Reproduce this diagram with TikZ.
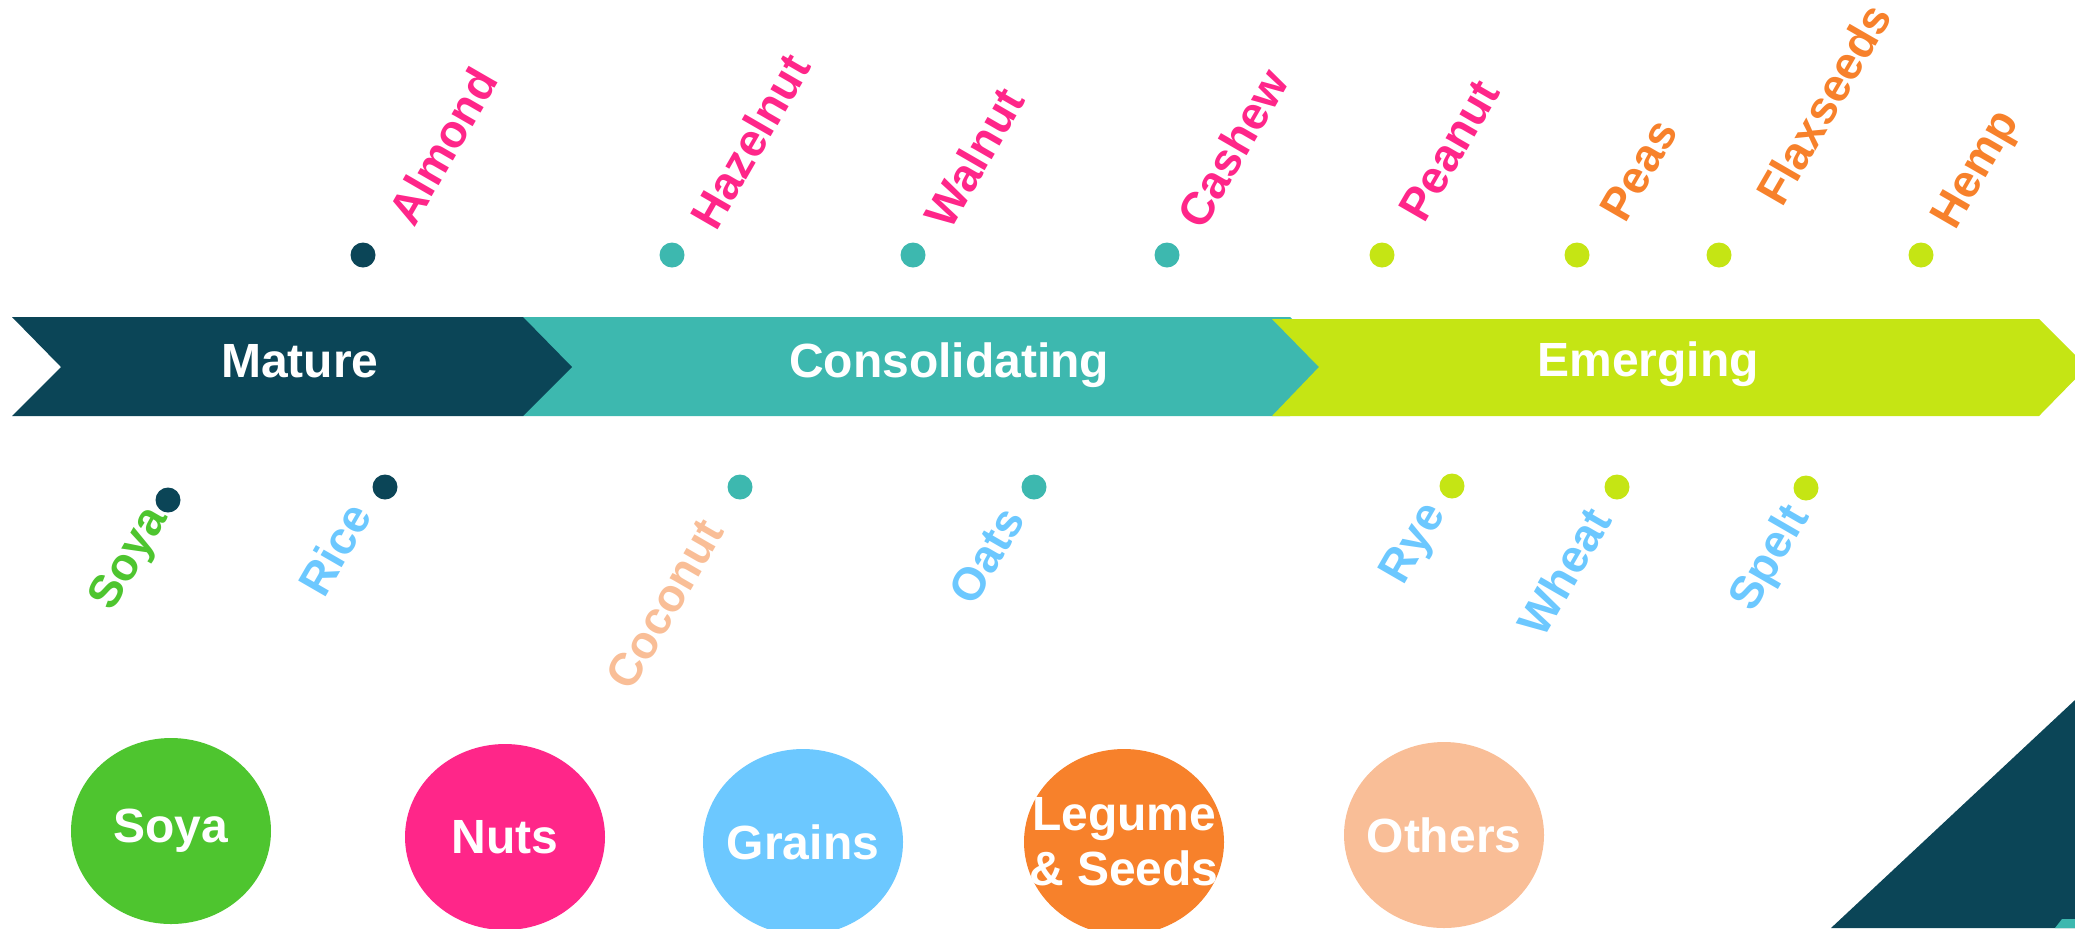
\documentclass[tikz,border=0pt]{standalone}
\usepackage{fontspec}
\setmainfont{Liberation Sans}
\usetikzlibrary{shapes.geometric}

\definecolor{dark}{HTML}{0B4557}
\definecolor{teal}{HTML}{3DB8AF}
\definecolor{lime}{HTML}{C5E514}
\definecolor{nut}{HTML}{FF2689}
\definecolor{seed}{HTML}{F7812B}
\definecolor{soy}{HTML}{4EC52F}
\definecolor{grain}{HTML}{6CC8FF}
\definecolor{other}{HTML}{F9BE97}

\begin{document}
\begin{tikzpicture}[x=0.5pt,y=-0.5pt,
    stage/.style={text=white, font=\fontsize{24}{28}\selectfont\bfseries, anchor=base},
    dot/.style={circle, inner sep=0pt, minimum size=12.5pt},
    crop/.style={font=\fontsize{23}{27}\selectfont\bfseries, inner sep=0pt, rotate=60},
    group/.style={ellipse, inner sep=0pt, minimum width=100pt, minimum height=93pt},
    grouptext/.style={text=white, align=center, inner sep=0pt,
        font=\fontsize{24}{27.5}\selectfont\bfseries}]
    \useasboundingbox (0,0) rectangle (2075,928);

    % the three stages
    \fill[teal] (523,317) -- (1290,317) -- (1340,367) -- (1290,416) -- (523,416) -- cycle;
    \fill[dark] (12,317) -- (523,317) -- (572,367) -- (523,416) -- (12,416) -- (61,367) -- cycle;
    \fill[lime] (1272,319) -- (2039,319) -- (2087,367) -- (2039,416) -- (1272,416) -- (1319,367) -- cycle;
    \node[stage] (mature) at (300,377) {Mature};
    \node[stage] (consolidating) at (949,377) {Consolidating};
    \node[stage] (emerging) at (1648,376) {Emerging};

    % crops above the stages
    \foreach \n/\x/\c in {almond/363/dark, hazelnut/672/teal, walnut/913/teal, cashew/1167/teal,
        peanut/1382/lime, peas/1577/lime, flax/1719/lime, hemp/1921/lime}
        \node[dot, fill=\c] (d-\n) at (\x,255) {};
    \foreach \n/\t/\c/\x/\y in {almond/Almond/nut/414/229, hazelnut/Hazelnut/nut/716/233,
        walnut/Walnut/nut/950/232, cashew/Cashew/nut/1203/232, peanut/Peanut/nut/1424/225,
        peas/Peas/seed/1625/225, flax/Flaxseeds/seed/1782/209, hemp/Hemp/seed/1955/232}
        \node[crop, text=\c, anchor=base west] (\n) at (\x,\y) {\t};

    % crops below the stages
    \foreach \n/\x/\y/\c in {soya/168/500/dark, rice/385/487/dark, coconut/740/487/teal,
        oats/1034/487/teal, rye/1452/486/lime, wheat/1617/487/lime, spelt/1806/488/lime}
        \node[dot, fill=\c] (d-\n) at (\x,\y) {};
    \foreach \n/\t/\c/\x/\y in {soya/Soya/soy/168/517, rice/Rice/grain/373/515,
        coconut/Coconut/other/725/531, oats/Oats/grain/1026/519, rye/Rye/grain/1446/513,
        wheat/Wheat/grain/1613/520, spelt/Spelt/grain/1810/516}
        \node[crop, text=\c, anchor=base east] (\n) at (\x,\y) {\t};

    % legend
    \foreach \n/\t/\c/\x/\y in {soya/Soya/soy/171/831, nuts/Nuts/nut/505/837,
        grains/Grains/grain/803/842, seeds/Legume\\\& Seeds/seed/1124/842,
        others/Others/other/1444/835}
    {
        \node[group, fill=\c] (g-\n) at (\x,\y) {};
        \node[grouptext] (t-\n) at (g-\n) {\t};
    }

    % corner
    \fill[dark] (1831,928) -- (2075,700) -- (2075,928) -- cycle;
    \fill[teal] (2055,928) -- (2062,919) -- (2075,919) -- (2075,928) -- cycle;
\end{tikzpicture}
\end{document}
